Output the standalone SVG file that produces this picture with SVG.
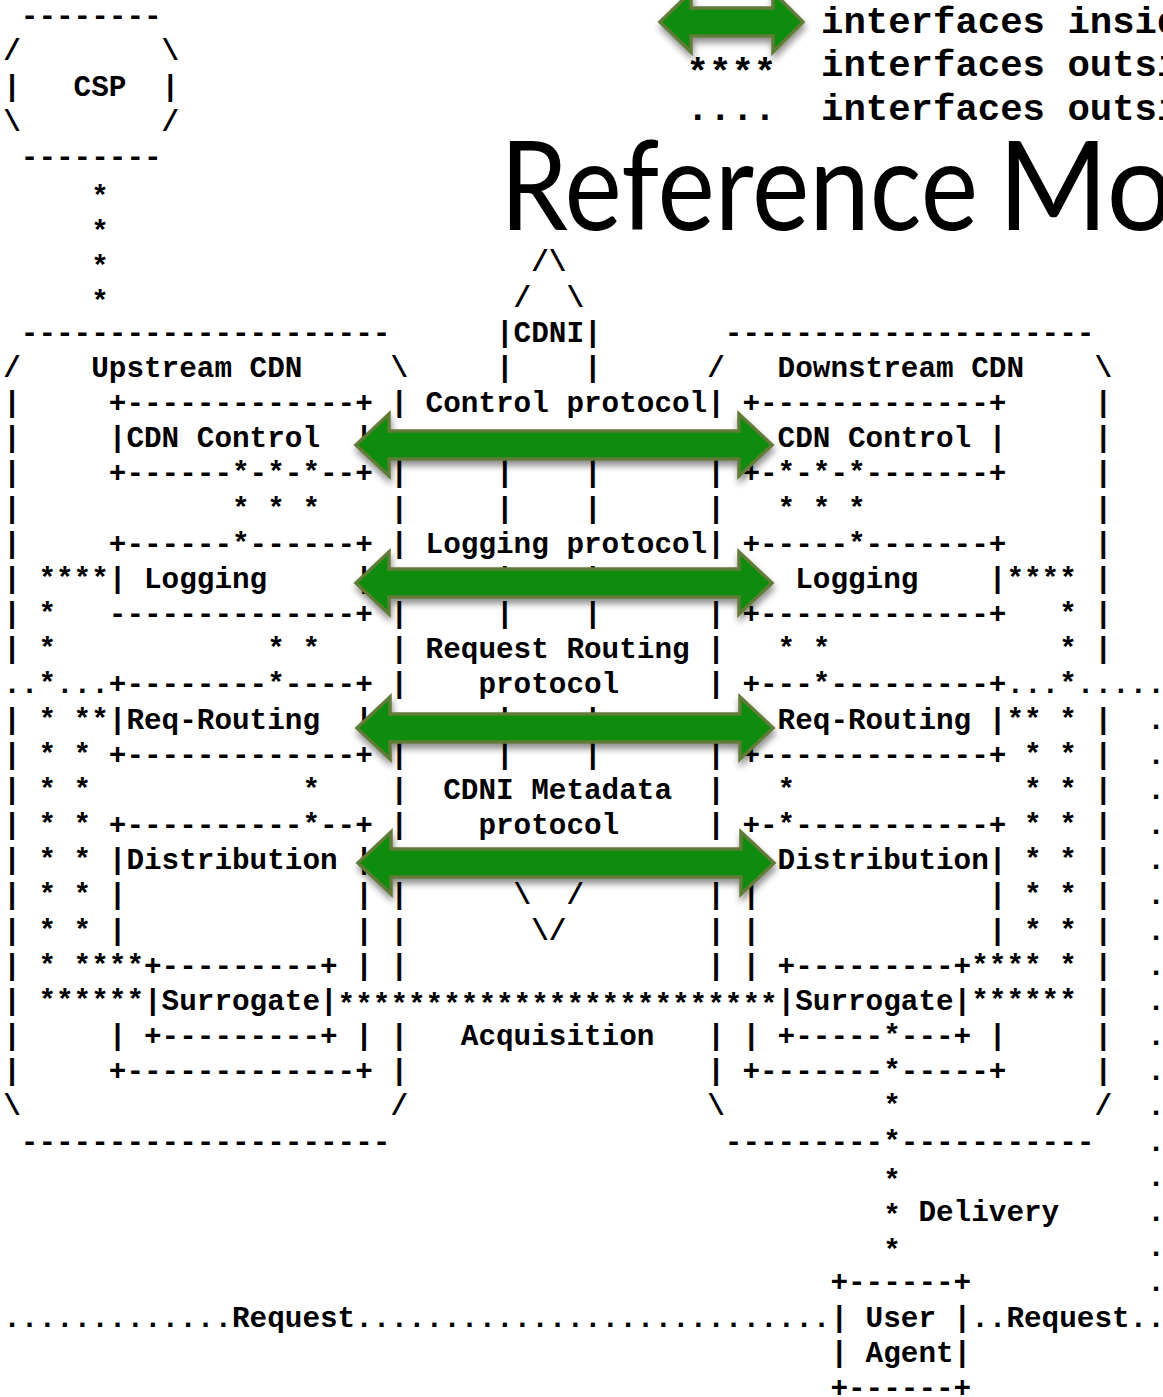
<svg xmlns="http://www.w3.org/2000/svg" width="1163" height="1397" viewBox="0 0 1163 1397" xml:space="preserve">
<defs>
<style>
.t{font-family:"Liberation Mono","Courier New",monospace;font-weight:bold;font-size:29.333px;fill:#000;white-space:pre}
.lg{font-size:37.333px}
.title{font-family:Lato,"Open Sans","Liberation Sans",sans-serif;font-size:124px;fill:#000}
.arr{fill:#078c07;stroke:#617b37;stroke-width:3.5;stroke-linejoin:miter;filter:url(#sh)}
</style>
<filter id="sh" x="-5%" y="-50%" width="110%" height="220%">
<feGaussianBlur in="SourceAlpha" stdDeviation="3.5" result="b"/>
<feOffset in="b" dx="1" dy="5" result="o"/>
<feComponentTransfer in="o" result="s"><feFuncA type="linear" slope="0.45"/></feComponentTransfer>
<feMerge><feMergeNode in="s"/><feMergeNode in="SourceGraphic"/></feMerge>
</filter>
</defs>
<rect width="1163" height="1397" fill="#fff"/>

<g id="title">
<text class="title" y="230"><tspan x="500" textLength="478" lengthAdjust="spacingAndGlyphs">Reference</tspan><tspan x="998" textLength="176" lengthAdjust="spacingAndGlyphs">Mo</tspan></text>
</g>

<g id="legend">
<path class="arr" d="M660,22 L691,-8 L691,8 L773,8 L773,-8 L803,22 L773,52 L773,36 L691,36 L691,52 Z"/>
<text class="t lg"><tspan x="821" y="33">interfaces insid</tspan><tspan x="686.6" y="84">****</tspan><tspan x="821" y="76">interfaces outsi</tspan><tspan x="686.6" y="120">....  interfaces outsi</tspan></text>
</g>

<g id="csp">
<text class="t"><tspan x="3.2" y="25.2"> --------</tspan><tspan x="3.2" y="60.3">/        \</tspan><tspan x="3.2" y="95.5">|   CSP  |</tspan><tspan x="3.2" y="130.7">\        /</tspan><tspan x="3.2" y="165.8"> --------</tspan></text>
</g>

<g id="upstream-cdn">
<text class="t"><tspan x="3.2" y="341.7"> ---------------------</tspan><tspan x="3.2" y="376.9">/    Upstream CDN     \</tspan><tspan x="3.2" y="412.0">|     +-------------+ |</tspan><tspan x="3.2" y="447.2">|     |CDN Control  |</tspan><tspan x="3.2" y="482.4">|     +------*-*-*--+ |</tspan><tspan x="3.2" y="517.5">|            * * *    |</tspan><tspan x="3.2" y="552.7">|     +------*------+ |</tspan><tspan x="3.2" y="587.9">| ****| Logging     |</tspan><tspan x="3.2" y="623.0">| *   --------------+ |</tspan><tspan x="3.2" y="658.2">| *            * *    |</tspan><tspan x="108.8" y="693.4">+--------*----+ |</tspan><tspan x="3.2" y="728.6">| * **|Req-Routing  |</tspan><tspan x="3.2" y="763.7">| * * +-------------+ |</tspan><tspan x="3.2" y="798.9">| * *            *    |</tspan><tspan x="3.2" y="834.1">| * * +----------*--+ |</tspan><tspan x="3.2" y="869.2">| * * |Distribution |</tspan><tspan x="3.2" y="904.4">| * * |             | |</tspan><tspan x="3.2" y="939.6">| * * |             | |</tspan><tspan x="3.2" y="974.8">| * ****+---------+ | |</tspan><tspan x="3.2" y="1009.9">| ******|Surrogate|</tspan><tspan x="3.2" y="1045.1">|     | +---------+ | |</tspan><tspan x="3.2" y="1080.3">|     +-------------+ |</tspan><tspan x="3.2" y="1115.4">\                     /</tspan><tspan x="3.2" y="1150.6"> ---------------------</tspan></text>
</g>

<g id="cdni-interfaces">
<text class="t"><tspan x="531.2" y="271.4">/\</tspan><tspan x="513.6" y="306.5">/  \</tspan><tspan x="496" y="341.7">|CDNI|</tspan><tspan x="496" y="376.9">|    |</tspan><tspan x="425.6" y="412.0">Control protocol</tspan><tspan x="496" y="482.4">|    |</tspan><tspan x="496" y="517.5">|    |</tspan><tspan x="425.6" y="552.7">Logging protocol</tspan><tspan x="496" y="587.9">|    |</tspan><tspan x="496" y="623.0">|    |</tspan><tspan x="425.6" y="658.2">Request Routing</tspan><tspan x="478.4" y="693.4">protocol</tspan><tspan x="496" y="728.6">|    |</tspan><tspan x="496" y="763.7">|    |</tspan><tspan x="443.2" y="798.9">CDNI Metadata</tspan><tspan x="478.4" y="834.1">protocol</tspan><tspan x="513.6" y="904.4">\  /</tspan><tspan x="531.2" y="939.6">\/</tspan><tspan x="460.8" y="1045.1">Acquisition</tspan></text>
</g>

<g id="downstream-cdn">
<text class="t"><tspan x="707.2" y="341.7"> ---------------------</tspan><tspan x="707.2" y="376.9">/   Downstream CDN    \</tspan><tspan x="707.2" y="412.0">| +-------------+     |</tspan><tspan x="707.2" y="447.2">  | CDN Control |     |</tspan><tspan x="707.2" y="482.4">| +-*-*-*-------+     |</tspan><tspan x="707.2" y="517.5">|   * * *             |</tspan><tspan x="707.2" y="552.7">| +-----*-------+     |</tspan><tspan x="707.2" y="587.9">  |  Logging    |**** |</tspan><tspan x="707.2" y="623.0">| +-------------+   * |</tspan><tspan x="707.2" y="658.2">|   * *             * |</tspan><tspan x="707.2" y="693.4">| +---*---------+</tspan><tspan x="707.2" y="728.6">  | Req-Routing |** * |</tspan><tspan x="707.2" y="763.7">| +-------------+ * * |</tspan><tspan x="707.2" y="798.9">|   *             * * |</tspan><tspan x="707.2" y="834.1">| +-*-----------+ * * |</tspan><tspan x="707.2" y="869.2">  | Distribution| * * |</tspan><tspan x="707.2" y="904.4">| |             | * * |</tspan><tspan x="707.2" y="939.6">| |             | * * |</tspan><tspan x="707.2" y="974.8">| | +---------+**** * |</tspan><tspan x="777.6" y="1009.9">|Surrogate|****** |</tspan><tspan x="707.2" y="1045.1">| | +-----*---+ |     |</tspan><tspan x="707.2" y="1080.3">| +-------*-----+     |</tspan><tspan x="707.2" y="1115.4">\         *           /</tspan><tspan x="707.2" y="1150.6"> ---------*-----------</tspan></text>
</g>

<g id="user-agent">
<text class="t"><tspan x="830.4" y="1291.3">+------+</tspan><tspan x="830.4" y="1326.5">| User |</tspan><tspan x="830.4" y="1361.6">| Agent|</tspan><tspan x="830.4" y="1396.8">+------+</tspan></text>
</g>

<g id="connectors">
<text class="t"><tspan x="91.2" y="206">*</tspan><tspan x="91.2" y="241">*</tspan><tspan x="91.2" y="276">*</tspan><tspan x="91.2" y="311">*</tspan><tspan x="337.6" y="1014">*************************</tspan><tspan x="3.2" y="693.4">..*...</tspan><tspan x="1006.4" y="693.4">...*.....</tspan><tspan x="1147.2" y="728.6">.</tspan><tspan x="1147.2" y="763.7">.</tspan><tspan x="1147.2" y="798.9">.</tspan><tspan x="1147.2" y="834.1">.</tspan><tspan x="1147.2" y="869.2">.</tspan><tspan x="1147.2" y="904.4">.</tspan><tspan x="1147.2" y="939.6">.</tspan><tspan x="1147.2" y="974.8">.</tspan><tspan x="1147.2" y="1009.9">.</tspan><tspan x="1147.2" y="1045.1">.</tspan><tspan x="1147.2" y="1080.3">.</tspan><tspan x="1147.2" y="1115.4">.</tspan><tspan x="1147.2" y="1150.6">.</tspan><tspan x="1147.2" y="1185.8">.</tspan><tspan x="1147.2" y="1220.9">.</tspan><tspan x="1147.2" y="1256.1">.</tspan><tspan x="1147.2" y="1291.3">.</tspan><tspan x="883.2" y="1190">*</tspan><tspan x="883.2" y="1225">*</tspan><tspan x="918.4" y="1220.9">Delivery</tspan><tspan x="883.2" y="1260">*</tspan><tspan x="3.2" y="1326.5">.............Request...........................</tspan><tspan x="971.2" y="1326.5">..Request..</tspan></text>
<path class="arr" d="M356,445 L389,414 L389,431 L739,431 L739,414 L772,445 L739,476 L739,459 L389,459 L389,476 Z"/>
<path class="arr" d="M356,583 L389,552 L389,569 L739,569 L739,552 L772,583 L739,614 L739,597 L389,597 L389,614 Z"/>
<path class="arr" d="M357,728 L390,697 L390,714 L740,714 L740,697 L773,728 L740,759 L740,742 L390,742 L390,759 Z"/>
<path class="arr" d="M358,863 L391,832 L391,849 L741,849 L741,832 L774,863 L741,894 L741,877 L391,877 L391,894 Z"/>
</g>
</svg>
